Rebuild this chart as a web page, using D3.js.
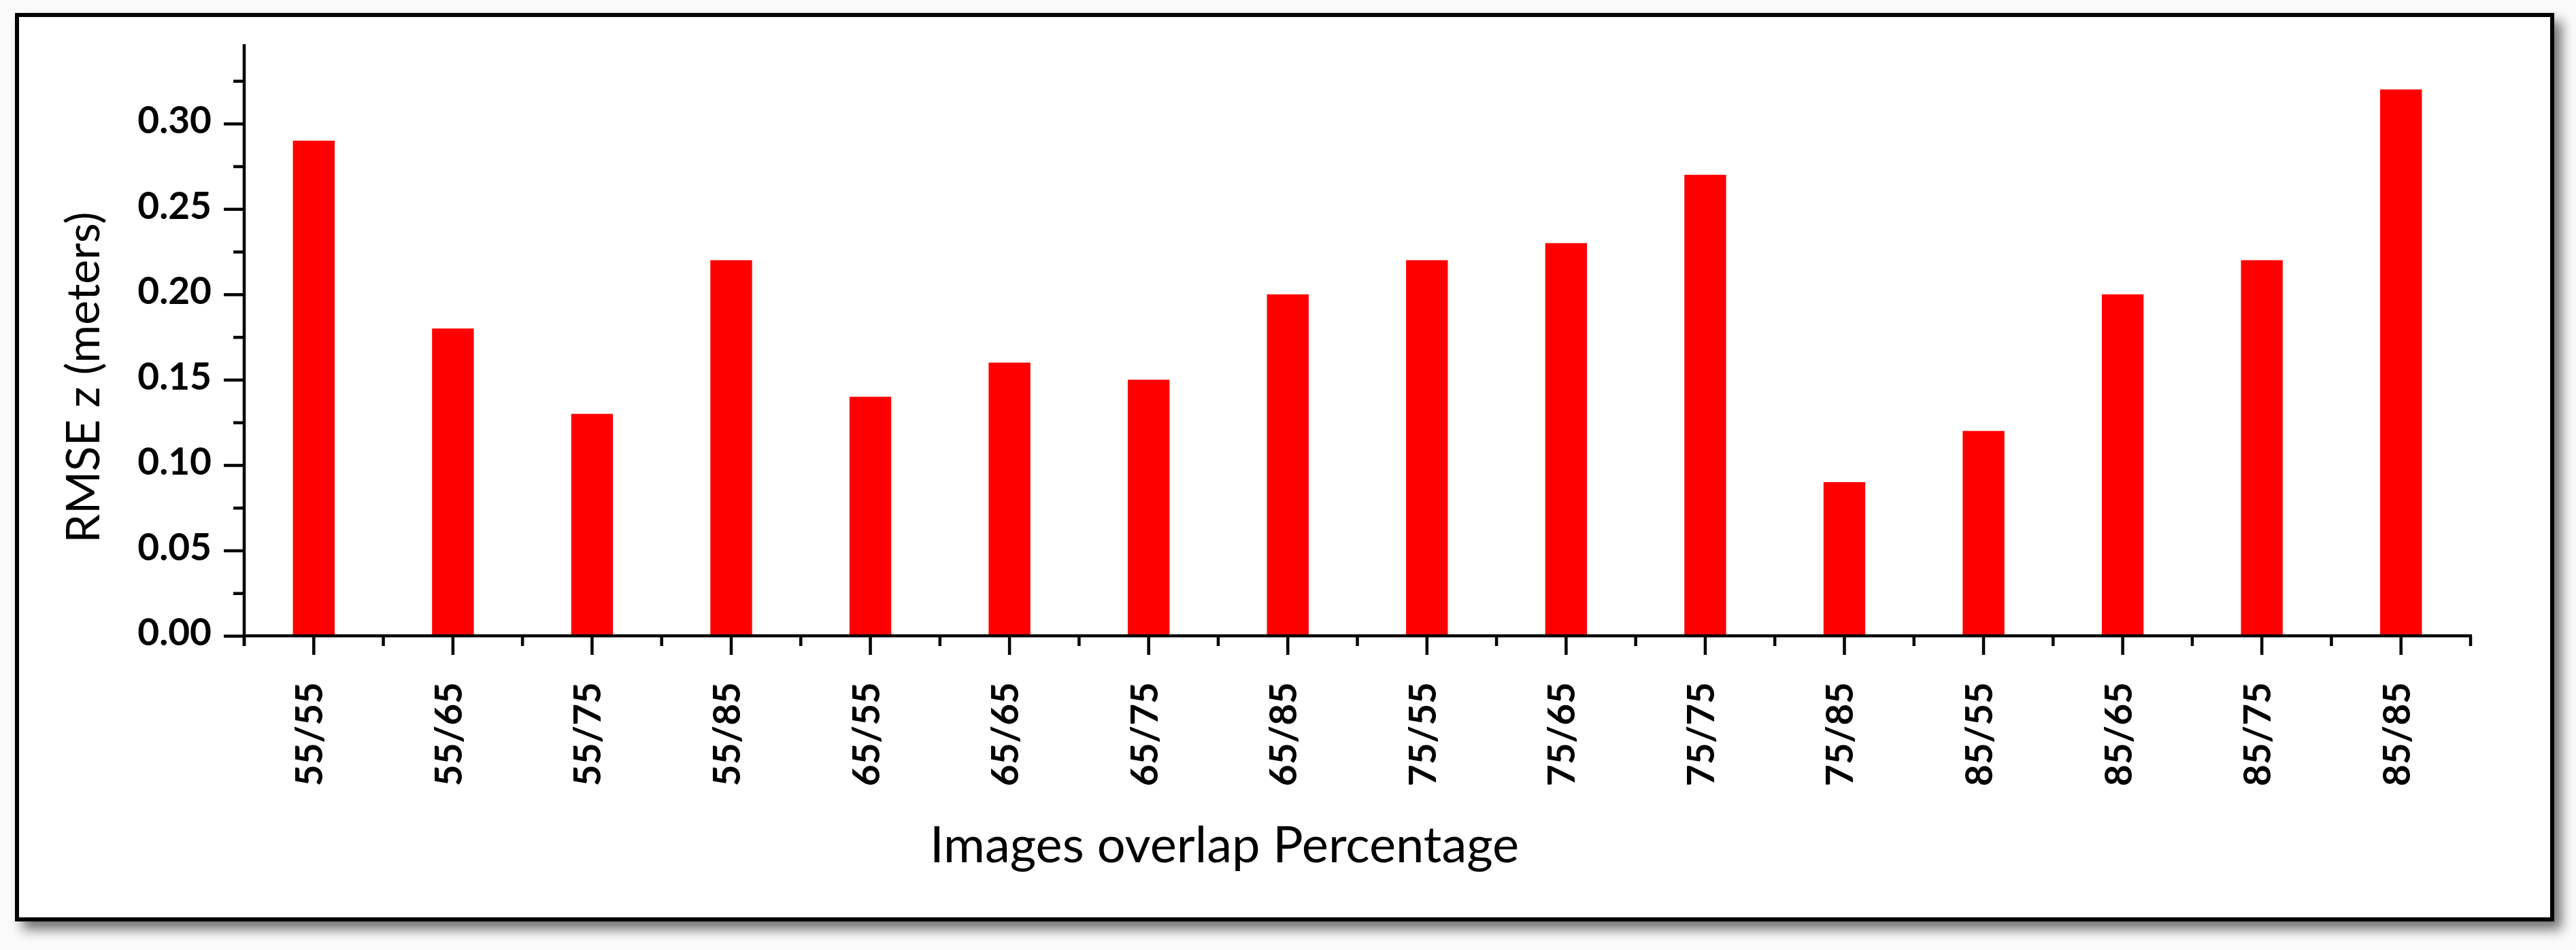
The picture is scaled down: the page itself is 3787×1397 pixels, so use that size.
<!DOCTYPE html>
<html>
<head>
<meta charset="utf-8">
<script src="https://cdn.jsdelivr.net/npm/d3@7/dist/d3.min.js"></script>
<style>
  html, body { margin: 0; padding: 0; background: #fbfbfb; }
  svg { display: block; }
  text { font-family: Lato, "Open Sans", sans-serif; fill: #000; }
</style>
</head>
<body>
<svg id="chart" width="3787" height="1397"></svg>
<script>
// ---- data ----
const categories = ["55/55","55/65","55/75","55/85","65/55","65/65","65/75","65/85",
                    "75/55","75/65","75/75","75/85","85/55","85/65","85/75","85/85"];
const rmseZ = [0.29, 0.18, 0.13, 0.22, 0.14, 0.16, 0.15, 0.20,
               0.22, 0.23, 0.27, 0.09, 0.12, 0.20, 0.22, 0.32];
const yMajorTicks = [0.00, 0.05, 0.10, 0.15, 0.20, 0.25, 0.30];
const yMinorTicks = [0.025, 0.075, 0.125, 0.175, 0.225, 0.275, 0.325];
const xAxisTitle = "Images overlap Percentage";
const yAxisTitle = "RMSE z (meters)";

// ---- layout ----
const svg = d3.select("#chart");
const plot = { left: 359, right: 3632, top: 65, bottom: 935 };

const defs = svg.append("defs");
const f = defs.append("filter").attr("id", "shadow")
  .attr("x", "-5%").attr("y", "-5%").attr("width", "115%").attr("height", "120%");
f.append("feDropShadow").attr("dx", 11).attr("dy", 12)
  .attr("stdDeviation", 9).attr("flood-color", "#000").attr("flood-opacity", 0.55);

// frame
svg.append("rect")
  .attr("x", 25).attr("y", 22).attr("width", 3727).attr("height", 1330)
  .attr("fill", "#fff").attr("stroke", "#000").attr("stroke-width", 6)
  .attr("filter", "url(#shadow)");

// scales
const x = d3.scaleBand().domain(categories).range([plot.left, plot.right]).padding(0);
const y = d3.scaleLinear().domain([0, 0.3465]).range([plot.bottom, plot.top]);
const bw = x.bandwidth();
const barFrac = 0.30;

// bars
svg.append("g").selectAll("rect").data(categories).join("rect")
  .attr("x", d => x(d) + bw * (1 - barFrac) / 2)
  .attr("width", bw * barFrac)
  .attr("y", (d, i) => y(rmseZ[i]))
  .attr("height", (d, i) => y(0) - y(rmseZ[i]))
  .attr("fill", "#ff0000");

const lw = 4.5;

// y axis (major)
const yAxisG = svg.append("g").attr("transform", `translate(${plot.left},0)`)
  .call(d3.axisLeft(y).tickValues(yMajorTicks).tickFormat(d3.format(".2f"))
        .tickSize(30).tickPadding(18));
yAxisG.select(".domain").remove();
yAxisG.selectAll(".tick line").attr("stroke", "#000").attr("stroke-width", lw);
yAxisG.selectAll(".tick text")
  .attr("font-family", "Lato, sans-serif").attr("font-weight", "bold")
  .attr("font-size", 55).attr("dy", "0.25em").attr("fill", "#000");

// y axis (minor)
const yMinorG = svg.append("g").attr("transform", `translate(${plot.left},0)`)
  .call(d3.axisLeft(y).tickValues(yMinorTicks).tickFormat("").tickSize(16));
yMinorG.select(".domain").remove();
yMinorG.selectAll(".tick line").attr("stroke", "#000").attr("stroke-width", lw);

// y axis line
svg.append("line")
  .attr("x1", plot.left).attr("x2", plot.left)
  .attr("y1", plot.top).attr("y2", plot.bottom + 15)
  .attr("stroke", "#000").attr("stroke-width", lw);

// x axis (major ticks at category centres)
const xAxisG = svg.append("g").attr("transform", `translate(0,${plot.bottom})`)
  .call(d3.axisBottom(x).tickSize(28).tickFormat(""));
xAxisG.select(".domain").remove();
xAxisG.selectAll(".tick line").attr("stroke", "#000").attr("stroke-width", lw);

// x minor ticks at band boundaries
const boundaries = categories.map(c => x(c)).concat([plot.right]);
svg.append("g").selectAll("line").data(boundaries).join("line")
  .attr("x1", d => d).attr("x2", d => d)
  .attr("y1", plot.bottom).attr("y2", plot.bottom + 15)
  .attr("stroke", "#000").attr("stroke-width", lw);

// x axis line
svg.append("line")
  .attr("x1", plot.left - 2).attr("x2", plot.right + 2)
  .attr("y1", plot.bottom).attr("y2", plot.bottom)
  .attr("stroke", "#000").attr("stroke-width", lw);

// x tick labels (rotated)
svg.append("g").selectAll("text").data(categories).join("text")
  .attr("transform", d => `translate(${x(d) + bw / 2 + 13},1003) rotate(-90)`)
  .attr("text-anchor", "end")
  .attr("font-family", "Lato, sans-serif").attr("font-weight", "bold")
  .attr("font-size", 55)
  .text(d => d);

// axis titles
svg.append("text")
  .attr("x", 1800).attr("y", 1268)
  .attr("text-anchor", "middle")
  .attr("font-size", 74)
  .text(xAxisTitle);

svg.append("text")
  .attr("transform", "translate(146,555) rotate(-90)")
  .attr("text-anchor", "middle")
  .attr("font-size", 68)
  .text(yAxisTitle);
</script>
</body>
</html>
